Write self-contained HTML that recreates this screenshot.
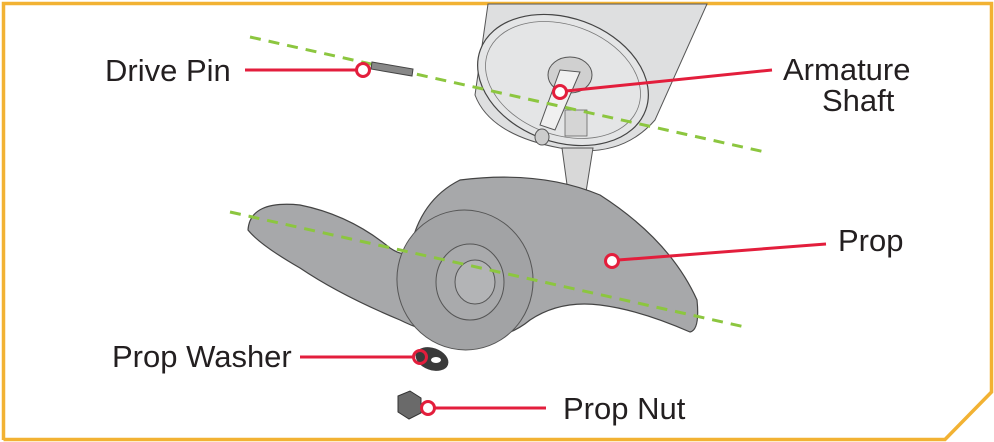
<!DOCTYPE html>
<html><head><meta charset="utf-8"><style>
html,body{margin:0;padding:0;background:#fff;}
svg{display:block;}
text{font-family:"Liberation Sans",sans-serif;font-size:31px;fill:#231f20;}
</style></head><body>
<svg width="994" height="442" viewBox="0 0 994 442" xmlns="http://www.w3.org/2000/svg">
<polyline points="3.5,440 3.5,3.5 991.5,3.5 991.5,392 945,439.5 3.5,439.5" fill="none" stroke="#f2b233" stroke-width="3.5"/>
<!-- motor housing -->
<path d="M488,4 L707,4 L655,120 Q620,160 560,148 Q490,135 475,95 Z" fill="#dedfe0" stroke="#555" stroke-width="1"/>
<path d="M562,148 L593,148 L586,192 L568,192 Z" fill="#d8d8d8" stroke="#555" stroke-width="1"/>
<ellipse cx="563" cy="80" rx="88" ry="62" transform="rotate(20 563 80)" fill="#e4e5e6" stroke="#444" stroke-width="1.2"/>
<ellipse cx="563" cy="80" rx="80" ry="55" transform="rotate(20 563 80)" fill="none" stroke="#777" stroke-width="0.8"/>
<ellipse cx="570" cy="75" rx="22" ry="18" fill="#d0d0d0" stroke="#555" stroke-width="1"/>
<path d="M560,70 L580,72 L555,130 L540,125 Z" fill="#f0f0f0" stroke="#555" stroke-width="1"/>
<ellipse cx="542" cy="137" rx="7" ry="8" fill="#ccc" stroke="#555"/>
<rect x="565" y="110" width="22" height="26" fill="#d5d5d5" stroke="#666" stroke-width="0.8"/>
<!-- prop -->
<path d="M248,230 Q250,200 300,205 Q350,215 390,248 Q405,258 410,250 Q420,200 460,180 Q540,170 600,195 Q670,240 697,300 Q700,330 690,332 Q640,310 600,305 Q560,300 530,320 Q500,345 450,338 Q420,330 400,320 Q340,295 300,268 Q260,245 248,230 Z" fill="#a7a8aa" stroke="#444" stroke-width="1.2"/>
<ellipse cx="465" cy="280" rx="68" ry="70" transform="rotate(-10 465 280)" fill="#a2a3a5" stroke="#555" stroke-width="1"/>
<ellipse cx="470" cy="282" rx="34" ry="38" fill="#a9aaac" stroke="#555" stroke-width="1"/>
<ellipse cx="475" cy="282" rx="20" ry="22" fill="#b3b4b6" stroke="#555" stroke-width="1"/>
<!-- dashed lines -->
<line x1="250" y1="37" x2="765" y2="152" stroke="#8cc63f" stroke-width="3" stroke-dasharray="11 8"/>
<line x1="230" y1="212" x2="745" y2="327" stroke="#8cc63f" stroke-width="3" stroke-dasharray="11 8"/>
<!-- drive pin -->
<polygon points="372,62 413,69 412,76 371,69" fill="#888" stroke="#444" stroke-width="1"/>
<!-- washer and nut -->
<ellipse cx="432" cy="359" rx="17" ry="11" transform="rotate(20 432 359)" fill="#3a3a3a"/>
<ellipse cx="436" cy="360" rx="5" ry="3" fill="#fff"/>
<polygon points="398,396 410,391 421,398 421,413 409,419 398,412" fill="#6a6a6a" stroke="#333"/>
<!-- leaders -->
<g stroke="#e31e3c" stroke-width="3" fill="#fff">
<line x1="245" y1="70" x2="357" y2="70"/><circle cx="363" cy="70" r="6.5"/>
<line x1="566" y1="91" x2="772" y2="70"/><circle cx="560" cy="92" r="6.5"/>
<line x1="618" y1="260" x2="826" y2="244"/><circle cx="612" cy="261" r="6.5"/>
<line x1="300" y1="357" x2="414" y2="357"/><circle cx="420" cy="357" r="6.5" fill="none"/>
<line x1="434" y1="408" x2="546" y2="408"/><circle cx="428" cy="408" r="6.5"/>
</g>
<text x="105" y="81">Drive Pin</text>
<text x="783" y="80">Armature</text>
<text x="822" y="111">Shaft</text>
<text x="838" y="251">Prop</text>
<text x="112" y="367">Prop Washer</text>
<text x="563" y="419">Prop Nut</text>
</svg>
</body></html>
